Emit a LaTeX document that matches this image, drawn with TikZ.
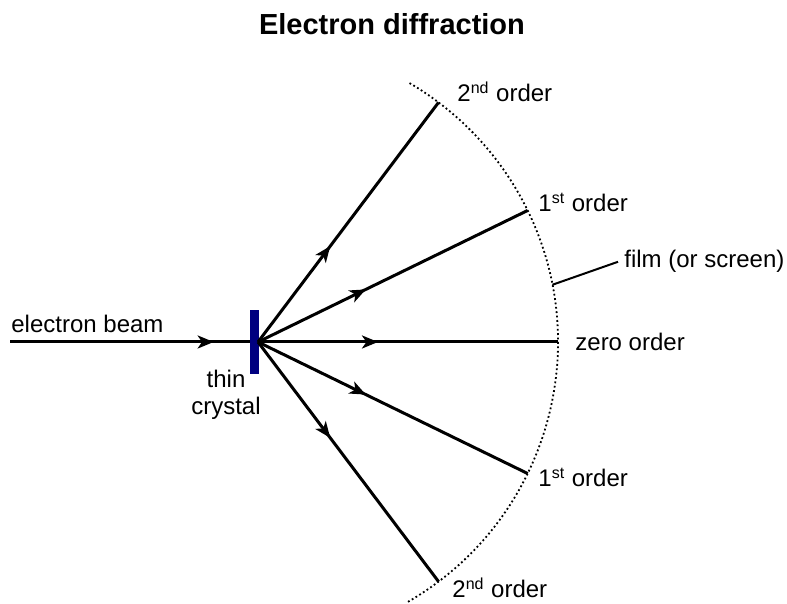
\documentclass[tikz,border=0pt]{standalone}
\usepackage{fontspec}
\setmainfont{Liberation Sans}
\usetikzlibrary{arrows.meta, decorations.markings, calc}
\definecolor{crystalblue}{RGB}{0, 0, 128}

\tikzset{
  ray/.style={line width=1.5pt},
  midarrow/.style={postaction={decorate}, decoration={markings,
    mark=at position #1 with {\arrow{Stealth[length=8pt, width=6.5pt, inset=2.2pt]}}}},
  lbl/.style={anchor=base west, inner sep=0pt, font=\fontsize{12}{13.5}\selectfont},
}

\begin{document}
\begin{tikzpicture}[x=0.5pt, y=0.5pt]

  % ── Layout ──────────────────────────────────────────────────────────
  \useasboundingbox (0,0) rectangle (787,604);
  \def\rad{300}   % film radius
  \def\arcang{60} % half-opening of the film arc

  % ── Title ────────────────────────────────────────────────────────────
  \node[anchor=base, inner sep=0pt, font=\fontsize{14.5}{17}\selectfont\bfseries]
    (title) at (392,569) {Electron diffraction};

  % ── Crystal and incident beam ────────────────────────────────────────
  \node[fill=crystalblue, minimum width=4.5pt, minimum height=32pt, inner sep=0pt]
    (crystal) at (254.5,262) {};
  \coordinate (O) at (258,262);
  \coordinate (src) at (10,262);
  \draw[ray, midarrow=0.85] (src) -- (crystal.west);

  % ── Diffracted rays ──────────────────────────────────────────────────
  \foreach \rn/\ang in {tu/53, fu/26, z/0, fd/-26, td/-53} {
    \coordinate (\rn) at ($(O)+(\ang:\rad)$);
    \draw[ray, midarrow=0.4] (O) -- (\rn);
  }

  % ── Film (dotted arc) ────────────────────────────────────────────────
  \draw[line width=0.9pt, dash pattern=on 0.9pt off 1.3pt] ($(O)+(-\arcang:\rad)$)
    arc[start angle=-\arcang, end angle=\arcang, radius=\rad];
  \coordinate (filmpt) at ($(O)+(11:\rad)$);

  % ── Labels ───────────────────────────────────────────────────────────
  \node[lbl] (beam) at (11,271) {electron beam};
  \node[anchor=north, inner sep=0pt, align=center,
    font=\fontsize{12}{13.5}\selectfont] (xtal) at (226,234) {thin\\crystal};
  \node[lbl] (ord2u) at (457,502) {2\textsuperscript{nd} order};
  \node[lbl] (ord1u) at (538,392) {1\textsuperscript{st} order};
  \node[lbl] (ord0)  at (575,253) {zero order};
  \node[lbl] (ord1d) at (538,117) {1\textsuperscript{st} order};
  \node[lbl] (ord2d) at (452,6)   {2\textsuperscript{nd} order};
  \node[lbl] (film)  at (624,336) {film (or screen)};
  \draw[line width=1pt] (filmpt) -- ([xshift=-3pt]film.west);

\end{tikzpicture}
\end{document}
